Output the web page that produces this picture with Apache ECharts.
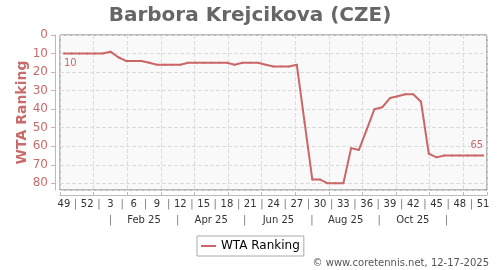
<!DOCTYPE html>
<html>
<head>
<meta charset="utf-8">
<script src="https://cdn.jsdelivr.net/npm/echarts@6/dist/echarts.min.js"></script>
<style>html,body{margin:0;padding:0;background:#fff}#c{width:500px;height:270px}</style>
</head>
<body>
<div id="c"></div>
<script>
// Week numbers (categories): 2024 w49 .. 2025 w51
var weeks = [49,50,51,52,1,2,3,4,5,6,7,8,9,10,11,12,13,14,15,16,17,18,19,20,21,22,23,24,25,26,27,28,29,30,31,32,33,34,35,36,37,38,39,40,41,42,43,44,45,46,47,48,49,50,51];
// WTA ranking per week
var ranking = [10,10,10,10,10,10,9,12,14,14,14,15,16,16,16,16,15,15,15,15,15,15,16,15,15,15,16,17,17,17,16,47,78,78,80,80,80,61,62,51,40,39,34,33,32,32,36,64,66,65,65,65,65,65,65];
// Month label row (month units: 0 = Jan 2025)
var monthLabelPos = [1.5,3.5,5.5,7.5,9.5];
var monthLabels = ['Feb 25','Apr 25','Jun 25','Aug 25','Oct 25'];
var monthSepPos = [0.5,2.5,4.5,6.5,8.5,10.5];
var yTicks = [0,10,20,30,40,50,60,70,80];

var lineColor = '#cc6666';
var axisPink = '#c86b6b';

function near(a,b){return Math.abs(a-b)<1e-6;}

var seriesData = ranking.map(function(v,i){
  if(i===0){
    return {value:v,label:{show:true,position:'bottom',align:'left',distance:4,formatter:String(v)}};
  }
  if(i===ranking.length-1){
    return {value:v,label:{show:true,position:'top',align:'right',distance:4,formatter:String(v)}};
  }
  return v;
});

var chart = echarts.init(document.getElementById('c'), null, {renderer:'canvas'});
chart.setOption({
  animation:false,
  textStyle:{fontFamily:'DejaVu Sans'},
  title:{
    text:'Barbora Krejcikova (CZE)',
    left:'center', top:1,
    textStyle:{fontSize:20,fontWeight:'bold',color:'#666',fontFamily:'DejaVu Sans'}
  },
  legend:{
    data:['WTA Ranking'],
    left:197, top:236,
    icon:'rect', itemWidth:15, itemHeight:2, itemGap:4,
    padding:[4,4,4,4],
    borderColor:'#aaa', borderWidth:1,
    textStyle:{fontSize:12,color:'#000',fontFamily:'DejaVu Sans'}
  },
  grid:{
    left:60, right:13, top:35, bottom:80,
    show:true, backgroundColor:'#f9f9f9', borderColor:'#777', borderWidth:1,
    containLabel:false
  },
  xAxis:[
    {type:'category', data:weeks, boundaryGap:true, show:false, axisLine:{onZero:false}},
    {type:'value', min:-1, max:11.708, interval:1, position:'bottom', offset:5,
      axisLine:{show:true,onZero:false,lineStyle:{color:'#bbb'}},
      axisTick:{show:true,inside:true,length:3,lineStyle:{color:'#bbb'}},
      axisLabel:{show:false},
      splitLine:{show:true,lineStyle:{type:'dashed',color:'#dcdcdc'}}},
    {type:'value', min:-0.5, max:54.5, interval:0.5, position:'bottom',
      axisLine:{show:false,onZero:false}, axisTick:{show:false}, splitLine:{show:false},
      axisLabel:{show:true, margin:9, fontSize:10, color:'#333',
        formatter:function(v){
          var r = Math.round(v*2)/2;
          if(near(r%3,0) && r>=0 && r<weeks.length) return String(weeks[r]);
          if(near(r%3,1.5) && r<weeks.length-1) return '{s||}';
          return '';
        },
        rich:{s:{color:'#777',fontSize:10}}}},
    {type:'value', min:-1, max:11.708, interval:0.5, position:'bottom',
      axisLine:{show:false,onZero:false}, axisTick:{show:false}, splitLine:{show:false},
      axisLabel:{show:true, margin:25, fontSize:10, color:'#333',
        formatter:function(v){
          for(var i=0;i<monthLabelPos.length;i++){ if(near(v,monthLabelPos[i])) return monthLabels[i]; }
          for(var j=0;j<monthSepPos.length;j++){ if(near(v,monthSepPos[j])) return '{s||}'; }
          return '';
        },
        rich:{s:{color:'#777',fontSize:10}}}}
  ],
  yAxis:{
    type:'value', inverse:true, min:0, max:83.6, interval:10,
    offset:5,
    name:'WTA Ranking', nameLocation:'middle', nameRotate:90, nameGap:26, nameMoveOverlap:false,
    nameTextStyle:{fontSize:14,fontWeight:'bold',color:axisPink,fontFamily:'DejaVu Sans'},
    axisLine:{show:true,onZero:false,lineStyle:{color:'#e2a9a9'}},
    axisTick:{show:true,length:4,lineStyle:{color:'#e2a9a9'}},
    axisLabel:{fontSize:12,color:axisPink,margin:7,showMaxLabel:false,
      formatter:function(v){ return yTicks.indexOf(v)>=0 ? String(v) : ''; }},
    splitLine:{show:true,lineStyle:{type:'dashed',color:'#dcdcdc'}}
  },
  series:[{
    name:'WTA Ranking', type:'line', xAxisIndex:0, yAxisIndex:0,
    data:seriesData,
    symbol:'circle', symbolSize:2, showSymbol:true, showAllSymbol:true,
    itemStyle:{color:lineColor},
    lineStyle:{color:lineColor,width:2},
    label:{show:false,fontSize:10,color:axisPink,fontFamily:'DejaVu Sans'},
    emphasis:{disabled:true}
  }],
  graphic:[{
    type:'text', right:11, bottom:2,
    style:{text:'\u00A9 www.coretennis.net, 12-17-2025', font:'10px "DejaVu Sans"', fill:'#555'}
  }]
});
</script>
</body>
</html>
